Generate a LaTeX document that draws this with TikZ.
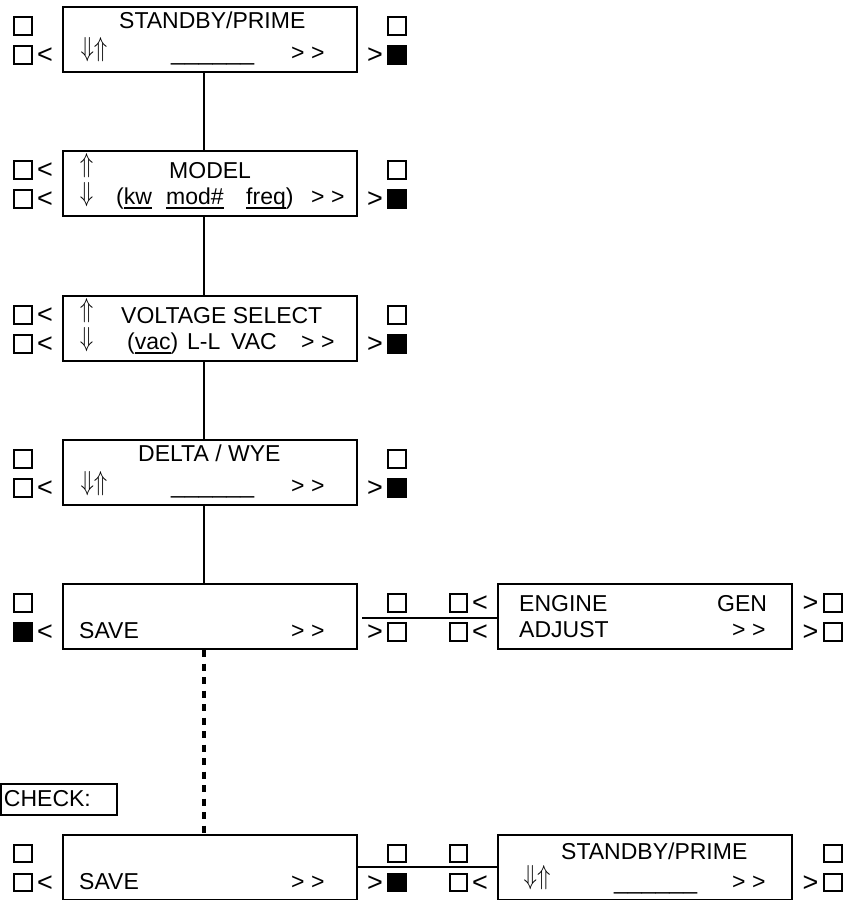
\documentclass[tikz,border=0pt]{standalone}
\usepackage{fontspec}
\setmainfont{Liberation Sans}
\newcommand\ulw[1]{\leavevmode\setbox0\hbox{#1}\rlap{\rule[-4.5pt]{\wd0}{1.7pt}}\box0}
\newcommand\dnup{\scalebox{2.2}[2.75]{$\Downarrow\Uparrow$}}
\newcommand\onlyup{\scalebox{2.2}[2.75]{$\Uparrow$}}
\newcommand\onlydn{\scalebox{2.2}[2.75]{$\Downarrow$}}
\begin{document}
\begin{tikzpicture}[x=1pt,y=-1pt,
 box/.style={draw,line width=2pt,minimum width=294pt,minimum height=65pt,inner sep=0pt},
 sq/.style={draw,line width=1.9pt,minimum size=17.5pt,inner sep=0pt},
 sqf/.style={sq,fill=black},
 lbl/.style={inner sep=0pt,anchor=base west,font=\fontsize{23}{27}\selectfont},
 sym/.style={inner sep=0pt,anchor=center,font=\fontsize{27}{30}\selectfont},
 arr/.style={inner sep=0pt,anchor=center},
 conn/.style={line width=2pt},
 dotline/.style={line width=4pt,dash pattern=on 7pt off 6.5pt}
]
\useasboundingbox (0,0) rectangle (847,900);

% boxes
\node[box] (b1) at (210,39.5) {};
\node[box] (b2) at (210,183.5) {};
\node[box] (b3) at (210,328.5) {};
\node[box] (b4) at (210,472.5) {};
\node[box] (b5) at (210,616.5) {};
\node[box] (b6) at (645,616.5) {};
\node[box] (b7) at (210,867) {};
\node[box] (b8) at (645,867) {};

% connectors
\draw[conn] ([xshift=-6pt]b1.south) -- ([xshift=-6pt]b2.north);
\draw[conn] ([xshift=-6pt]b2.south) -- ([xshift=-6pt]b3.north);
\draw[conn] ([xshift=-6pt]b3.south) -- ([xshift=-6pt]b4.north);
\draw[conn] ([xshift=-6pt]b4.south) -- ([xshift=-6pt]b5.north);
\draw[dotline] ([xshift=-6.5pt]b5.south) -- ([xshift=-6.5pt]b7.north);
\draw[conn,shorten <=4pt] ([yshift=-1.5pt]b5.east) -- ([yshift=-1.5pt]b6.west);
\draw[conn] (b7.east) -- (b8.west);

% box 1
\node[sq] (s1a) at (23,26) {};
\node[sq] (s1b) at (23,55) {};
\node[sym] (l1b) at (45,56) {<};
\node[sq] (s1c) at (397,26) {};
\node[sqf] (s1d) at (397,55) {};
\node[sym] (r1d) at (375,56) {>};
\node[lbl] (t1a) at (119,28) {STANDBY/PRIME};
\node[arr] (a1) at (94,50) {\dnup};
\node[lbl] (u1) at (171,60) {\scalebox{1.08}[1]{\_\_\_\_\_\_}};
\node[lbl] (g1) at (291,60) {> >};

% box 2
\node[sq] (s2a) at (23,170) {};
\node[sym] (l2a) at (45,171) {<};
\node[sq] (s2b) at (23,199) {};
\node[sym] (l2b) at (45,200) {<};
\node[sq] (s2c) at (397,170) {};
\node[sqf] (s2d) at (397,199) {};
\node[sym] (r2d) at (375,200) {>};
\node[arr] (a2a) at (86.5,166) {\onlyup};
\node[arr] (a2b) at (86.5,195) {\onlydn};
\node[lbl] (t2a) at (169,178) {MODEL};
\node[lbl] (t2b) at (116,204) {(\ulw{kw}};
\node[lbl] (t2c) at (166,204) {\ulw{mod\#}};
\node[lbl] (t2d) at (246,204) {\ulw{freq})};
\node[lbl] (g2) at (311,204) {> >};

% box 3
\node[sq] (s3a) at (23,315) {};
\node[sym] (l3a) at (45,316) {<};
\node[sq] (s3b) at (23,344) {};
\node[sym] (l3b) at (45,345) {<};
\node[sq] (s3c) at (397,315) {};
\node[sqf] (s3d) at (397,344) {};
\node[sym] (r3d) at (375,345) {>};
\node[arr] (a3a) at (86.5,311) {\onlyup};
\node[arr] (a3b) at (86.5,340) {\onlydn};
\node[lbl] (t3a) at (121,323) {VOLTAGE SELECT};
\node[lbl] (t3b) at (127,349) {(\ulw{vac})};
\node[lbl] (t3c) at (187,349) {L-L};
\node[lbl] (t3d) at (231,349) {VAC};
\node[lbl] (g3) at (301,349) {> >};

% box 4
\node[sq] (s4a) at (23,459) {};
\node[sq] (s4b) at (23,488) {};
\node[sym] (l4b) at (45,489) {<};
\node[sq] (s4c) at (397,459) {};
\node[sqf] (s4d) at (397,488) {};
\node[sym] (r4d) at (375,489) {>};
\node[lbl] (t4a) at (138,461) {DELTA / WYE};
\node[arr] (a4) at (94,484) {\dnup};
\node[lbl] (u4) at (171,493) {\scalebox{1.08}[1]{\_\_\_\_\_\_}};
\node[lbl] (g4) at (291,493) {> >};

% box 5
\node[sq] (s5a) at (23,603) {};
\node[sqf] (s5b) at (23,632) {};
\node[sym] (l5b) at (45,633) {<};
\node[sq] (s5c) at (397,603) {};
\node[sq] (s5d) at (397,632) {};
\node[sym] (r5d) at (375,633) {>};
\node[lbl] (t5) at (79,638) {SAVE};
\node[lbl] (g5) at (291,638) {> >};

% box 6
\node[sq] (s6a) at (458.5,603) {};
\node[sym] (l6a) at (480,604) {<};
\node[sq] (s6b) at (458.5,632) {};
\node[sym] (l6b) at (480,633) {<};
\node[sq] (s6c) at (833,603) {};
\node[sym] (r6c) at (810.5,604) {>};
\node[sq] (s6d) at (833,632) {};
\node[sym] (r6d) at (810.5,633) {>};
\node[lbl] (t6a) at (519,611) {ENGINE};
\node[lbl] (t6b) at (717,611) {GEN};
\node[lbl] (t6c) at (519,637) {ADJUST};
\node[lbl] (g6) at (732,637) {> >};

% CHECK
\node[draw,line width=2pt,minimum height=31pt,text width=110pt,inner xsep=3pt,inner ysep=0pt,anchor=west,align=left,font=\fontsize{23}{27}\selectfont] (chk) at (0,799) {CHECK:};

% box 7
\node[sq] (s7a) at (23,853.5) {};
\node[sq] (s7b) at (23,882.5) {};
\node[sym] (l7b) at (45,883.5) {<};
\node[sq] (s7c) at (397,853.5) {};
\node[sqf] (s7d) at (397,882.5) {};
\node[sym] (r7d) at (375,883.5) {>};
\node[lbl] (t7) at (79,889) {SAVE};
\node[lbl] (g7) at (291,889) {> >};

% box 8
\node[sq] (s8a) at (458.5,853.5) {};
\node[sq] (s8b) at (458.5,882.5) {};
\node[sym] (l8b) at (480,883.5) {<};
\node[sq] (s8c) at (833,853.5) {};
\node[sq] (s8d) at (833,882.5) {};
\node[sym] (r8d) at (810.5,883.5) {>};
\node[lbl] (t8a) at (561,859) {STANDBY/PRIME};
\node[arr] (a8) at (537,878) {\dnup};
\node[lbl] (u8) at (614,889) {\scalebox{1.08}[1]{\_\_\_\_\_\_}};
\node[lbl] (g8) at (732,889) {> >};
\end{tikzpicture}
\end{document}
